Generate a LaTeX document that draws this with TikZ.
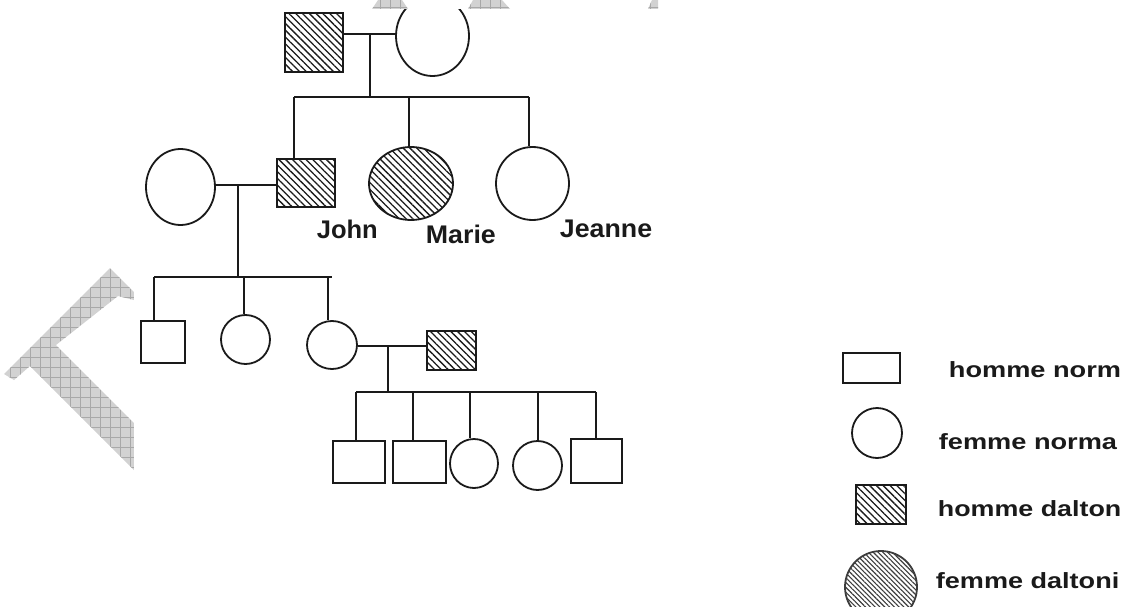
\documentclass[tikz,border=0pt]{standalone}
\usepackage{fontspec}
\setmainfont{Liberation Sans}
\usepackage{graphicx}
\usetikzlibrary{shapes.geometric,patterns.meta}
\definecolor{wm}{HTML}{D2D2D2}
\definecolor{wmgrid}{HTML}{A8A8A8}
\definecolor{ink}{HTML}{1A1A1A}
\begin{document}
\begin{tikzpicture}[x=1pt,y=-1pt,line width=1.8pt,draw=ink,
  pm/.style={draw,rectangle,inner sep=0pt},
  pf/.style={draw,ellipse,inner sep=0pt},
  hatch/.style={pattern={Lines[angle=-45,distance=4.8pt,line width=1.3pt]},pattern color=ink},
  lhatch/.style={pattern={Lines[angle=-45,distance=3.4pt,line width=1.1pt]},pattern color=ink!85,draw=ink!85},
  lbl/.style={font=\fontsize{25.5}{25.5}\selectfont\bfseries,anchor=base west,inner sep=0pt,text=ink},
  leg/.style={font=\fontsize{22}{22}\selectfont\bfseries,anchor=base west,inner sep=0pt,text=ink},
  wmark/.style={preaction={fill=wm},pattern={Hatch[angle=0,distance=10pt,line width=0.5pt]},pattern color=wmgrid}
]
\useasboundingbox (0,0) rectangle (1124,607);
\clip (0,0) rectangle (1124,607);
\fill[white] (0,0) rectangle (1124,607);
% watermark remnants
\path[wmark] (110,268) -- (134,292) -- (134,300) -- (118,296) -- (56,345) -- (134,423)
  -- (134,470) -- (30,366) -- (14,380) -- (4,374) -- cycle;
\path[wmark] (372,9) -- (378,0) -- (402,0) -- (408,9) -- cycle;
\path[wmark] (468,9) -- (473,0) -- (502,0) -- (510,9) -- cycle;
\path[wmark] (648,9) -- (652,0) -- (658,0) -- (658,9) -- cycle;
\fill[white] (134,9.5) rectangle (760,607);

% generation 1
\node[pm,hatch,minimum width=58pt,minimum height=59pt] (g1m) at (314,42.5) {};
\begin{scope}
\clip (134,9.5) rectangle (760,607);
\node[pf,minimum width=73pt,minimum height=80pt] (g1f) at (432.5,36) {};
\end{scope}
\coordinate (m1) at (370,34);
\coordinate (s1) at (370,97);
\coordinate (d1) at (294,97);
\coordinate (d2) at (409,97);
\coordinate (d3) at (529,97);
\draw (m1 -| g1m.east) -- (m1 -| g1f.west);
\draw (m1) -- (s1);
\draw (d1) -- (d3);

% generation 2
\node[pf,minimum width=69pt,minimum height=76pt] (wife) at (180.5,187) {};
\node[pm,hatch,minimum width=58pt,minimum height=48pt] (john) at (306,183) {};
\node[pf,hatch,minimum width=84pt,minimum height=73pt] (marie) at (411,183.5) {};
\node[pf,minimum width=73pt,minimum height=73pt] (jeanne) at (532.5,183.5) {};
\draw (d1) -- (d1 |- john.north);
\draw (d2) -- (d2 |- marie.north);
\draw (d3) -- (d3 |- jeanne.north);
\node[lbl] (tjohn) at (316,238) {John};
\node[lbl] (tmarie) at (425,243) {\scalebox{1.05}[1]{Marie}};
\node[lbl] (tjeanne) at (559,237) {\scalebox{1.05}[1]{Jeanne}};
\coordinate (m2) at (238,185);
\coordinate (s2) at (238,277);
\coordinate (e1) at (154,277);
\coordinate (e2) at (244,277);
\coordinate (e3) at (328,277);
\coordinate (e4) at (332,277);
\draw (m2 -| wife.east) -- (m2 -| john.west);
\draw (m2) -- (s2);
\draw (e1) -- (e4);

% generation 3
\node[pm,minimum width=44pt,minimum height=42pt] (c1) at (163,342) {};
\node[pf,minimum width=49pt,minimum height=49pt] (c2) at (245.5,339.5) {};
\node[pf,minimum width=50pt,minimum height=48pt] (c3) at (332,345) {};
\node[pm,hatch,minimum width=49pt,minimum height=39pt] (h3) at (451.5,350.5) {};
\draw (e1) -- (e1 |- c1.north);
\draw (e2) -- (e2 |- c2.north);
\draw (e3) -- (e3 |- c3.north);
\coordinate (m3) at (388,346);
\coordinate (s3) at (388,392);
\coordinate (f1) at (356,392);
\coordinate (f2) at (413,392);
\coordinate (f3) at (470,392);
\coordinate (f4) at (538,392);
\coordinate (f5) at (596,392);
\draw (m3 -| c3.east) -- (m3 -| h3.west);
\draw (m3) -- (s3);
\draw (f1) -- (f5);

% generation 4
\node[pm,minimum width=52pt,minimum height=42pt] (k1) at (359,462) {};
\node[pm,minimum width=53pt,minimum height=42pt] (k2) at (419.5,462) {};
\node[pf,minimum width=48pt,minimum height=49pt] (k3) at (474,463.5) {};
\node[pf,minimum width=49pt,minimum height=49pt] (k4) at (537.5,465.5) {};
\node[pm,minimum width=51pt,minimum height=44pt] (k5) at (596.5,461) {};
\draw (f1) -- (f1 |- k1.north);
\draw (f2) -- (f2 |- k2.north);
\draw (f3) -- (f3 |- k3.north);
\draw (f4) -- (f4 |- k4.north);
\draw (f5) -- (f5 |- k5.north);

% legend
\node[pm,minimum width=57pt,minimum height=30pt] (l1) at (871.5,368) {};
\node[pf,minimum width=50pt,minimum height=50pt] (l2) at (877,433) {};
\node[pm,hatch,minimum width=50pt,minimum height=39pt] (l3) at (881,504.5) {};
\node[pf,lhatch,minimum width=72pt,minimum height=72pt] (l4) at (881,587) {};
\node[leg] (t1) at (948,377) {\scalebox{1.235}[1]{homme norm}};
\node[leg] (t2) at (938,449) {\scalebox{1.235}[1]{femme norma}};
\node[leg] (t3) at (937,516) {\scalebox{1.22}[1]{homme dalton}};
\node[leg] (t4) at (935,588) {\scalebox{1.23}[1]{femme daltoni}};
\end{tikzpicture}
\end{document}
